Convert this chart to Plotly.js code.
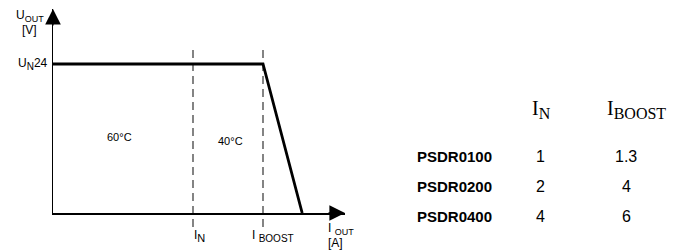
<!DOCTYPE html>
<html>
<head>
<meta charset="utf-8">
<script src="https://cdn.plot.ly/plotly-3.0.1.min.js"></script>
<style>html,body{margin:0;padding:0;background:#fff;}#chart{width:676px;height:250px;}</style>
</head>
<body>
<div id="chart"></div>
<script>
// Derating curve (arbitrary current units: I_N = 1)
const curveX = [0, 1.5, 1.78];
const curveY = [24, 24, 0];
const ratedX = 1;          // I_N position
const boostX = 1.5;        // I_BOOST position
const nominalVoltage = '24';
const zoneLabels = ['60°C', '40°C'];

// Table
const models = ['PSDR0100', 'PSDR0200', 'PSDR0400'];
const iN = ['1', '2', '4'];
const iBoost = ['1.3', '4', '6'];

const W = 676, H = 250;
const L = 53, R = 345, T = 9, B = 213;
const px = x => (x - L) / (R - L);
const py = y => (B - y) / (B - T);

const arial = 'Arial, "Liberation Sans", Helvetica, sans-serif';
const times = '"Times New Roman", "Liberation Serif", serif';
const sub = (s, size) => '<sub><span style="font-size:' + size + 'px">' + s + '</span></sub>';

const ann = [];
function txt(text, x, y, opts) {
  ann.push(Object.assign({
    text: text, x: px(x), y: py(y), xref: 'paper', yref: 'paper',
    showarrow: false, xanchor: 'center', yanchor: 'middle',
    font: {family: arial, size: 12, color: '#000'}
  }, opts || {}));
}
// axis arrowheads
ann.push({x: 1, y: 0, xref: 'paper', yref: 'paper', ax: -18, ay: 0, text: '',
  showarrow: true, arrowhead: 2, arrowsize: 2.4, arrowwidth: 1.3, arrowcolor: '#000'});
ann.push({x: 0, y: 1, xref: 'paper', yref: 'paper', ax: 0, ay: 18, text: '',
  showarrow: true, arrowhead: 2, arrowsize: 2.4, arrowwidth: 1.3, arrowcolor: '#000'});

txt('U' + sub('OUT', 9), 14, 16, {xanchor: 'left'});
txt('[V]', 29, 30);
txt('U' + sub('N', 10) + nominalVoltage, 50, 64, {xanchor: 'right'});
txt(zoneLabels[0], 119, 137, {font: {family: arial, size: 11, color: '#000'}});
txt(zoneLabels[1], 230, 141, {font: {family: arial, size: 11, color: '#000'}});
txt('I' + sub('N', 11), 192, 236, {xanchor: 'left'});
txt('I ' + sub('BOOST', 10), 250, 236, {xanchor: 'left'});
txt('I ' + sub('OUT', 9), 326, 229, {xanchor: 'left'});
txt('[A]', 326, 243, {xanchor: 'left'});

// table
const hdrFont = {family: times, size: 20, color: '#000'};
txt('I' + sub('N', 16), 530, 109, {xanchor: 'left', font: hdrFont});
txt('I' + sub('BOOST', 16), 605, 109, {xanchor: 'left', font: hdrFont});
const rowY = [156, 186, 216];
models.forEach((m, i) => {
  txt('<b>' + m + '</b>', 415, rowY[i], {xanchor: 'left', font: {family: arial, size: 15, color: '#000'}});
  txt(iN[i], 540, rowY[i], {font: {family: arial, size: 16, color: '#000'}});
  txt(iBoost[i], 626, rowY[i], {font: {family: arial, size: 16, color: '#000'}});
});

const dash = {color: '#333', width: 1.2, dash: '8px,5px'};
const shapes = [ratedX, boostX].map(x => ({
  type: 'line', xref: 'x', yref: 'paper', x0: x, x1: x,
  y0: py(227), y1: py(45), line: dash, layer: 'below'
}));

const xMax = (R - L) / 140;
const yMax = (B - T) / ((B - 64) / 24);

Plotly.newPlot('chart', [{
  x: curveX, y: curveY, type: 'scatter', mode: 'lines',
  line: {color: '#000', width: 2.8}, cliponaxis: false, hoverinfo: 'skip'
}], {
  width: W, height: H,
  margin: {l: L, r: W - R, t: T, b: H - B, pad: 0},
  paper_bgcolor: '#fff', plot_bgcolor: '#fff',
  showlegend: false,
  xaxis: {range: [0, xMax], showgrid: false, zeroline: false, showticklabels: false,
    ticks: '', showline: true, linecolor: '#000', linewidth: 1.5},
  yaxis: {range: [0, yMax], showgrid: false, zeroline: false, showticklabels: false,
    ticks: '', showline: true, linecolor: '#000', linewidth: 1.5},
  shapes: shapes,
  annotations: ann
}, {displayModeBar: false, staticPlot: true});
</script>
</body>
</html>
